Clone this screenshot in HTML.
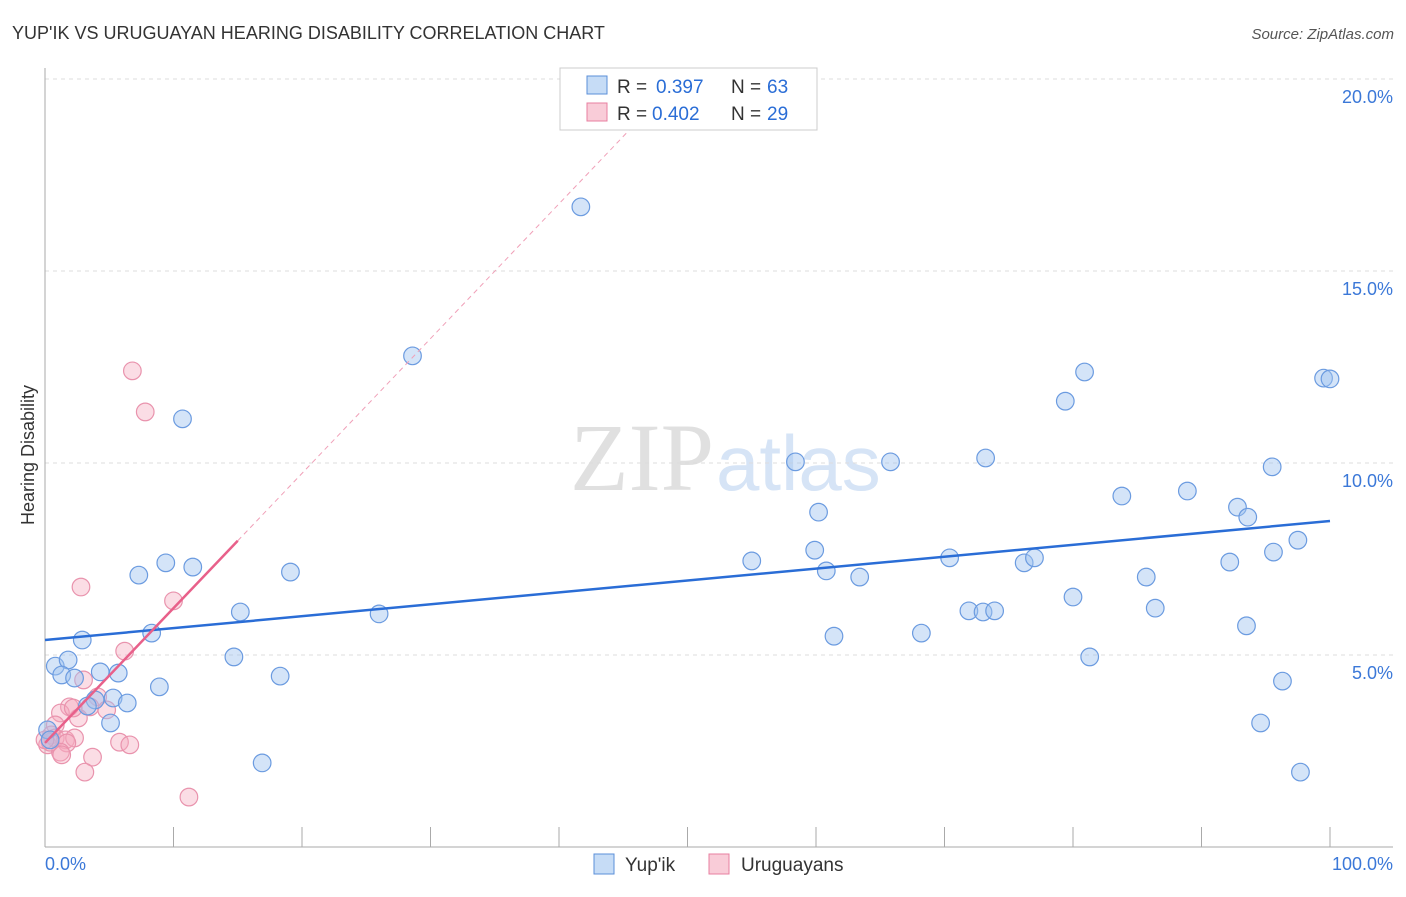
<!DOCTYPE html>
<html><head><meta charset="utf-8"><style>
body{margin:0;background:#fff;font-family:"Liberation Sans",sans-serif}
</style></head><body>
<svg id="c" width="1406" height="892" xmlns="http://www.w3.org/2000/svg">
<text x="12" y="39" font-size="18" fill="#333">YUP'IK VS URUGUAYAN HEARING DISABILITY CORRELATION CHART</text>
<text x="1394" y="39" font-size="15" fill="#555" font-style="italic" text-anchor="end">Source: ZipAtlas.com</text>
<text x="714" y="490" font-size="96" fill="#e0e0e0" text-anchor="end" font-family="Liberation Serif,serif">ZIP</text>
<text x="716" y="490" font-size="78" fill="#d6e4f6">atlas</text>
<text x="34" y="455" font-size="18" fill="#333" text-anchor="middle" transform="rotate(-90 34 455)">Hearing Disability</text>
<g id="grid"></g><g id="marks"></g>
<g>
<rect x="560" y="68" width="257" height="62" fill="#fff" stroke="#ccc"/>
<rect x="587" y="76" width="20" height="18" fill="rgba(160,196,240,0.6)" stroke="#5b8fd8"/>
<text x="617" y="93" font-size="19" fill="#333">R =</text>
<text x="656" y="93" font-size="19" fill="#2a6dd6">0.397</text>
<text x="731" y="93" font-size="19" fill="#333">N =</text>
<text x="767" y="93" font-size="19" fill="#2a6dd6">63</text>
<rect x="587" y="103" width="20" height="18" fill="rgba(245,170,190,0.6)" stroke="#e87fa0"/>
<text x="617" y="120" font-size="19" fill="#333">R =</text>
<text x="652" y="120" font-size="19" fill="#2a6dd6">0.402</text>
<text x="731" y="120" font-size="19" fill="#333">N =</text>
<text x="767" y="120" font-size="19" fill="#2a6dd6">29</text>
</g>
<g>
<rect x="594" y="854" width="20" height="20" fill="rgba(160,196,240,0.6)" stroke="#5b8fd8"/>
<text x="625" y="871" font-size="19" fill="#333">Yup'ik</text>
<rect x="709" y="854" width="20" height="20" fill="rgba(245,170,190,0.6)" stroke="#e87fa0"/>
<text x="741" y="871" font-size="19" fill="#333">Uruguayans</text>
</g>
</svg>
<script>
const blueX=[41.7,28.6,10.7,80.9,79.4,99.5,100,58.4,65.8,73.2,95.5,60.2,83.8,88.9,92.8,93.6,55.0,59.9,70.4,76.2,77.0,92.2,95.6,97.5,60.8,63.4,85.7,7.3,9.4,11.5,19.1,15.2,26.0,71.9,73.0,73.9,80.0,86.4,93.5,8.3,2.9,61.4,68.2,14.7,81.3,0.8,1.8,1.3,2.3,4.3,5.7,18.3,8.9,96.3,3.9,5.3,6.4,3.3,5.1,94.6,16.9,97.7,0.2,0.4];
const blueY=[16.67,12.79,11.15,12.37,11.61,12.21,12.19,10.03,10.03,10.13,9.90,8.72,9.14,9.27,8.85,8.59,7.45,7.73,7.53,7.40,7.53,7.42,7.68,7.99,7.19,7.03,7.03,7.08,7.40,7.29,7.16,6.12,6.07,6.15,6.12,6.15,6.51,6.22,5.76,5.57,5.39,5.49,5.57,4.95,4.95,4.71,4.87,4.48,4.40,4.56,4.53,4.45,4.17,4.32,3.83,3.88,3.75,3.67,3.23,3.23,2.19,1.95,3.05,2.79];
const pinkX=[6.8,7.8,2.8,10.0,6.2,3.0,4.1,1.9,1.2,3.5,4.8,2.6,0.8,0.5,0.2,0.8,1.6,2.3,1.7,1.2,3.7,3.1,5.8,6.6,11.2,2.2,0.4,1.3,0];
const pinkY=[12.40,11.33,6.77,6.41,5.10,4.35,3.91,3.65,3.49,3.65,3.57,3.36,3.18,2.92,2.66,2.84,2.79,2.84,2.71,2.47,2.34,1.95,2.73,2.66,1.30,3.62,2.73,2.40,2.79];
const blueTrend=[5.39,8.49];
const pinkTrend=[2.71,0.351];
const yTicks=[5,10,15,20];
const xTickLabels=["0.0%","100.0%"];
const NS="http://www.w3.org/2000/svg";
const sx=v=>45+v*12.85, sy=v=>847-v*38.4;
function mk(t,a,p){const e=document.createElementNS(NS,t);for(const k in a)e.setAttribute(k,a[k]);p.appendChild(e);return e;}
const g=document.getElementById('grid'), m=document.getElementById('marks');
yTicks.forEach(t=>{
  const l=mk('line',{x1:45,x2:1393,y1:sy(t),y2:sy(t),stroke:'#ddd','stroke-dasharray':'4,4'},g);
  
  
  const tx=mk('text',{x:1393,y:sy(t)+24,'font-size':18,fill:'#3b78d8','text-anchor':'end'},g);
  tx.textContent=t.toFixed(1)+'%';
  
  
});
const ya=mk('line',{x1:45,x2:45,y1:68,y2:847,stroke:'#aaa'},g);


const xa=mk('line',{x1:45,x2:1393,y1:847,y2:847,stroke:'#aaa'},g);


for(let i=1;i<=10;i++){
  const t=mk('line',{x1:sx(i*10),x2:sx(i*10),y1:827,y2:847,stroke:'#aaa'},g);
  
  
}
[[0,'start',45],[1,'end',1393]].forEach(([i,a,x])=>{
  const t=mk('text',{x:x,y:870,'font-size':18,fill:'#3b78d8','text-anchor':a},g);
  t.textContent=xTickLabels[i];
  
  
});
pinkX.forEach((x,i)=>{
  const c=mk('circle',{cx:sx(x),cy:sy(pinkY[i]),r:8.8,fill:'rgba(245,170,190,0.4)',stroke:'#e993ad','stroke-width':1.2},m);
  
  
});
blueX.forEach((x,i)=>{
  const c=mk('circle',{cx:sx(x),cy:sy(blueY[i]),r:8.8,fill:'rgba(160,196,240,0.45)',stroke:'#6b9be0','stroke-width':1.2},m);
  
  
});
const bl=mk('line',{x1:sx(0),y1:sy(blueTrend[0]),x2:sx(100),y2:sy(blueTrend[1]),stroke:'#2a6dd6','stroke-width':2.5},m);


const pl=mk('line',{x1:sx(0),y1:sy(pinkTrend[0]),x2:sx(15),y2:sy(pinkTrend[0]+15*pinkTrend[1]),stroke:'#e8608a','stroke-width':2.5},m);


const pd=mk('line',{x1:sx(15),y1:sy(pinkTrend[0]+15*pinkTrend[1]),x2:sx(46),y2:sy(pinkTrend[0]+46*pinkTrend[1]),stroke:'#f0a0b8','stroke-width':1,'stroke-dasharray':'5,4'},m);


</script>
</body></html>
